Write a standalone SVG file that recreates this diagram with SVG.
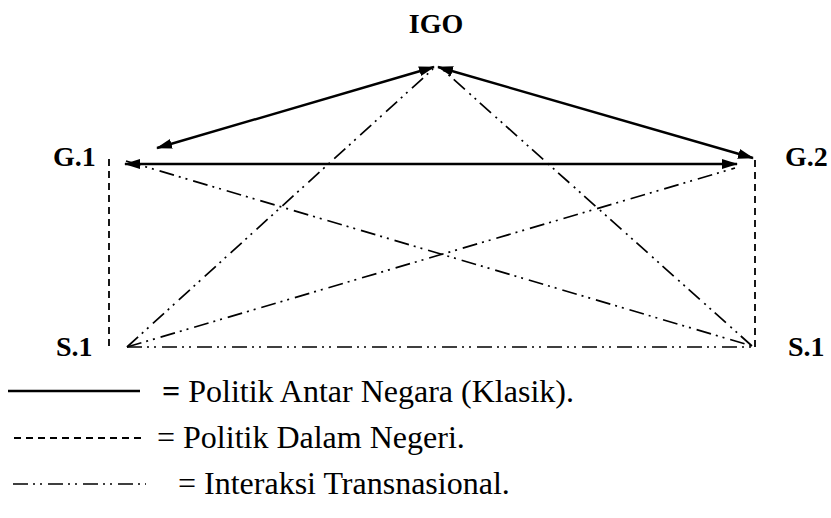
<svg xmlns="http://www.w3.org/2000/svg" width="831" height="518" viewBox="0 0 831 518">
  <style>
    text { font-family: 'Liberation Serif', 'Times New Roman', serif; fill: #000; }
    .lbl { font-weight: bold; font-size: 28px; }
    .leg { font-size: 32px; }
    .solid { stroke: #000; stroke-width: 2.4; fill: none; }
    .dash { stroke: #000; stroke-width: 1.8; fill: none; stroke-dasharray: 7 5; }
    .ddot { stroke: #000; stroke-width: 1.7; fill: none; stroke-dasharray: 15 5 2 5 2 6; }
  </style>
  <defs>
    <marker id="arr" viewBox="0 0 16 10" refX="15" refY="5" markerWidth="16" markerHeight="10" markerUnits="userSpaceOnUse" orient="auto-start-reverse">
      <path d="M0,0 L16,5 L0,10 z" fill="#000"/>
    </marker>
  </defs>

  <g id="node-IGO"><text class="lbl" x="436" y="33" text-anchor="middle">IGO</text></g>
  <g id="node-G1"><text class="lbl" x="53" y="166">G.1</text></g>
  <g id="node-G2"><text class="lbl" x="785" y="166">G.2</text></g>
  <g id="node-S1-left"><text class="lbl" x="56" y="356">S.1</text></g>
  <g id="node-S1-right"><text class="lbl" x="788" y="356">S.1</text></g>

  <g id="connectors">
    <line class="solid" x1="157" y1="148" x2="434" y2="67" marker-start="url(#arr)" marker-end="url(#arr)"/>
    <line class="solid" x1="438" y1="67" x2="753" y2="158" marker-start="url(#arr)" marker-end="url(#arr)"/>
    <line class="solid" x1="125" y1="164" x2="737" y2="164" marker-start="url(#arr)" marker-end="url(#arr)"/>
    <line class="dash" x1="109" y1="159" x2="109" y2="347"/>
    <line class="dash" x1="755" y1="160" x2="755" y2="347"/>
    <line class="ddot" x1="127" y1="347" x2="433" y2="69"/>
    <line class="ddot" x1="752" y1="346" x2="442" y2="69"/>
    <line class="ddot" x1="126" y1="161" x2="752" y2="346"/>
    <line class="ddot" x1="127" y1="347" x2="735" y2="168"/>
    <line class="ddot" x1="127" y1="347" x2="755" y2="347"/>
  </g>

  <g id="legend">
    <line class="solid" x1="8" y1="391" x2="140" y2="391" stroke-width="2"/>
    <text class="leg" x="162" y="402"><tspan font-weight="bold">=</tspan> Politik Antar Negara (Klasik).</text>
    <line class="dash" x1="14" y1="438" x2="146" y2="438"/>
    <text class="leg" x="157" y="448">= Politik Dalam Negeri.</text>
    <line class="ddot" x1="13" y1="484" x2="146" y2="484" stroke-dasharray="13 6 2 6 2 7"/>
    <text class="leg" x="178" y="494">= Interaksi Transnasional.</text>
  </g>
</svg>
